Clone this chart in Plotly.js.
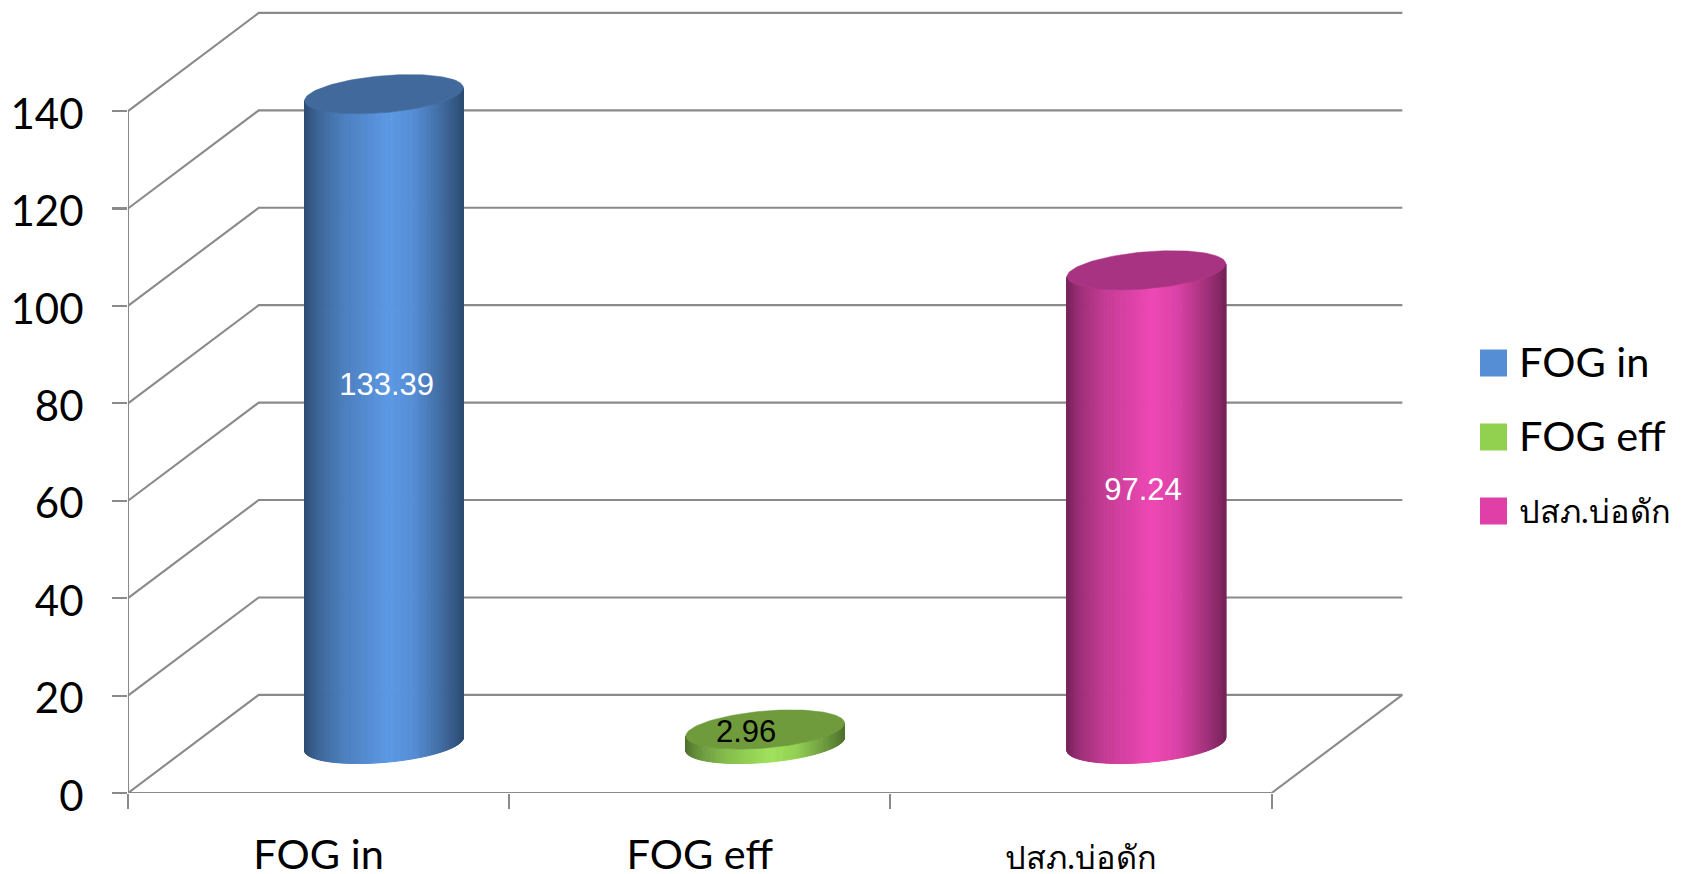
<!DOCTYPE html>
<html><head><meta charset="utf-8">
<script src="https://cdn.plot.ly/plotly-3.0.1.min.js"></script>
<style>html,body{margin:0;padding:0;background:#fff;overflow:hidden}#c{width:1682px;height:874px}</style>
</head><body><div id="c"></div>
<script>
// data
const categories = ['FOG in', 'FOG eff', 'ปสภ.บ่อดัก'];
const categorySizes = [41.5, 41.5, 32.5];
const values = [133.39, 2.96, 97.24];
const valueLabels = ['133.39', '2.96', '97.24'];
const yTicks = [0, 20, 40, 60, 80, 100, 120, 140];
const sideColors = [[92, 153, 229], [160, 226, 92], [238, 72, 181]];
const topColors = ['#41699c', '#6f9b3c', '#a93383'];
const legendColors = ['#558ed5', '#92d050', '#e03fa8'];
const labelColors = ['#ffffff', '#000000', '#ffffff'];
const labelShiftX = [0.007, -0.05, -0.009];
const labelY = [83.4, 12, 61.8];
const shadeStops = [[0, .5], [.05, .6], [.1, .68], [.25, .83], [.4, .92], [.54, 1], [.7, .92], [.85, .72], [.95, .58], [1, .5]];

// projection constants, in axis units
const depthX = 0.343, depthY = 20.15, rx = 0.1965, rDepth = 0.4;
const lineCol = '#8a8a8a', lineW = 2.1;
const font = 'Lato, "Noto Sans", sans-serif';
const nCat = categories.length;

function shade(f) {
  for (let i = 1; i < shadeStops.length; i++) {
    if (f <= shadeStops[i][0]) {
      const a = shadeStops[i - 1], b = shadeStops[i];
      return a[1] + (b[1] - a[1]) * (f - a[0]) / (b[0] - a[0]);
    }
  }
  return 1;
}
const traces = [];
function line(x, y) {
  traces.push({x, y, type: 'scatter', mode: 'lines', hoverinfo: 'skip', showlegend: false, cliponaxis: false,
    line: {color: lineCol, width: lineW}});
}
const xBack = nCat + depthX;
yTicks.forEach(v => line([0, depthX, xBack], [v, v + depthY, v + depthY]));
line([0, 0], [yTicks[0], yTicks[yTicks.length - 1]]);
line([0, nCat, xBack], [0, 0, depthY]);

// cylinders
const dxs = depthX / 2 * rDepth, dys = depthY / 2 * rDepth;
const tR = Math.atan2(dxs, rx);
const halfW = Math.hypot(rx, dxs);
const N = 140;
values.forEach((v, c) => {
  const cx = c + 0.5 + depthX / 2, cy = depthY / 2;
  const px = t => cx + rx * Math.cos(t) + dxs * Math.sin(t);
  const py = t => dys * Math.sin(t);
  for (let i = 0; i < N; i++) {
    const t0 = tR - Math.PI + Math.PI * i / N, t1 = tR - Math.PI + Math.PI * (i + 1) / N;
    const xs = [], ys = [];
    const T = [t0, t1];
    T.forEach(t => { xs.push(px(t)); ys.push(cy + py(t)); });
    T.slice().reverse().forEach(t => { xs.push(px(t)); ys.push(cy + v + py(t)); });
    xs.push(xs[0]); ys.push(ys[0]);
    const f = (px((t0 + t1) / 2) - (cx - halfW)) / (2 * halfW), m = shade(f);
    const col = 'rgb(' + sideColors[c].map(q => Math.round(q * m)).join(',') + ')';
    traces.push({x: xs, y: ys, type: 'scatter', mode: 'lines', fill: 'toself', fillcolor: col, hoverinfo: 'skip',
      showlegend: false, cliponaxis: false, line: {color: col, width: 1}});
  }
  const xs = [], ys = [];
  for (let i = 0; i <= 120; i++) { const t = 2 * Math.PI * i / 120; xs.push(px(t)); ys.push(cy + v + py(t)); }
  traces.push({x: xs, y: ys, type: 'scatter', mode: 'lines', fill: 'toself', fillcolor: topColors[c], hoverinfo: 'skip',
    showlegend: false, cliponaxis: false, line: {color: topColors[c], width: 0.5}});
});
// value labels
values.forEach((v, c) => {
  traces.push({x: [c + 0.5 + depthX / 2 + labelShiftX[c]], y: [labelY[c]], text: [valueLabels[c]], type: 'scatter', mode: 'text',
    textposition: 'middle center', hoverinfo: 'skip', showlegend: false, cliponaxis: false,
    textfont: {family: '"Liberation Sans", Arial, sans-serif', size: 31, color: labelColors[c]}});
});
// legend column on its own axes
const legendRows = [430, 356, 282];
categories.forEach((name, c) => {
  traces.push({x: [90.5], y: [legendRows[c]], xaxis: 'x2', yaxis: 'y2', type: 'scatter', mode: 'markers', hoverinfo: 'skip', showlegend: false,
    marker: {symbol: 'square', size: 27, color: legendColors[c], line: {width: 0}}});
  traces.push({x: [116], y: [legendRows[c] - 4], xaxis: 'x2', yaxis: 'y2', type: 'scatter', mode: 'text', text: [name], textposition: 'middle right',
    hoverinfo: 'skip', showlegend: false, cliponaxis: false, textfont: {family: font, size: categorySizes[c], color: '#000'}});
});

const layout = {
  width: 1682, height: 874, margin: {l: 128, r: 0, t: 10, b: 81}, paper_bgcolor: '#fff', plot_bgcolor: '#fff',
  showlegend: false, hovermode: false,
  xaxis: {domain: [0, 1275 / 1554], range: [0, 1275 / 381.2], showgrid: false, zeroline: false, showline: false,
    tickmode: 'array', tickvals: categories.map((_, i) => i + 0.5),
    ticktext: categories.map((n, i) => '<span style="font-size:' + categorySizes[i] + 'px">' + n + '</span>'), ticks: '',
    ticklabelstandoff: 33, tickfont: {family: font, size: 41.5, color: '#000'},
    minor: {tickmode: 'array', tickvals: [0, 1, 2, 3], ticks: 'outside', ticklen: 15, tickwidth: lineW, tickcolor: lineCol, showgrid: false}},
  yaxis: {range: [0, 783 / 4.871], showgrid: false, zeroline: false, showline: false,
    tickmode: 'array', tickvals: yTicks, ticks: 'outside', ticklen: 15, tickwidth: lineW, tickcolor: lineCol,
    ticklabelstandoff: 20, ticklabelshift: 3, tickfont: {family: font, size: 42, color: '#000'}},
  xaxis2: {domain: [1275 / 1554, 1], range: [0, 279], visible: false, anchor: 'y2'},
  yaxis2: {domain: [0, 1], range: [0, 783], visible: false, anchor: 'x2'}
};
Plotly.newPlot('c', traces, layout, {staticPlot: true, displayModeBar: false});
</script></body></html>
